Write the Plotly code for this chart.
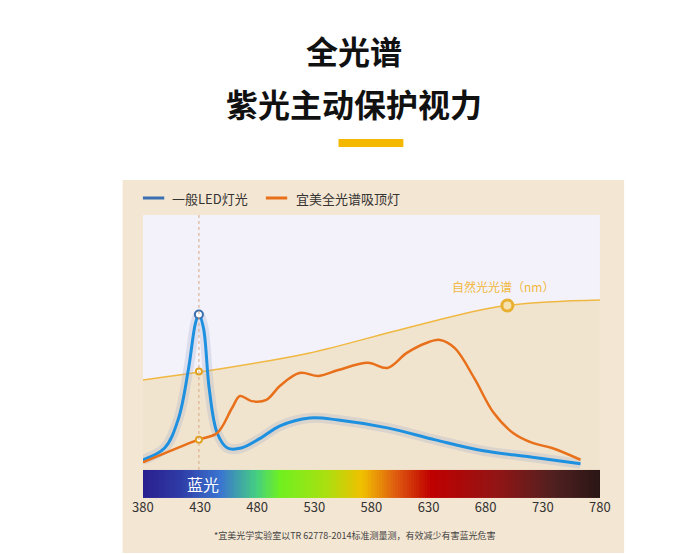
import plotly.graph_objects as go

# data (wavelength nm, relative intensity)
blue_wl = [380, 399, 411, 420, 426, 429, 433, 438, 445, 454, 466, 483, 500, 526, 551, 594, 636, 678, 721, 763]
blue_v = [4, 8.6, 20, 40, 57.6, 61, 55.7, 32, 14.5, 8.6, 8.6, 12.5, 17.3, 20.4, 19.6, 16.5, 11.8, 7.5, 5, 2.4]
orange_wl = [380, 428, 445, 458, 465, 475, 488, 500, 517, 534, 551, 577, 594, 611, 628, 640, 653, 670, 687, 704, 721, 738, 763]
orange_v = [3, 11.8, 14.5, 24.3, 29, 27, 27.5, 33, 38, 36.9, 39.2, 42, 40, 45.9, 49.8, 51, 47.8, 36, 22.4, 14.5, 10.6, 8.6, 4]
nat_wl = [380, 441, 526, 611, 695, 780]
nat_v = [35.3, 39.2, 45.9, 55.7, 64.3, 66.7]
tick_vals = [380, 430, 480, 530, 580, 630, 680, 730, 780]
tick_labels = [str(t) for t in tick_vals]
spec_x = list(range(380, 781, 2))

fig = go.Figure()
fig.add_trace(go.Heatmap(x=spec_x, y=[-11, 0], z=[spec_x], showscale=False, hoverinfo="skip",
    colorscale=[[0, "#2a1f8f"], [0.08, "#2e3aa5"], [0.17, "#3a75d0"], [0.25, "#45d080"], [0.3, "#70f020"],
                [0.4, "#a8e010"], [0.48, "#f0c000"], [0.55, "#e06010"], [0.63, "#c00000"], [0.78, "#901515"],
                [0.9, "#502020"], [1, "#2a1515"]]))
fig.add_trace(go.Scatter(x=nat_wl, y=nat_v, mode="lines", line=dict(color="#f0b840", width=1.5, shape="spline"),
                         fill="tozeroy", fillcolor="rgba(240,195,110,0.3)", hoverinfo="skip"))
fig.add_trace(go.Scatter(x=blue_wl, y=blue_v, mode="lines", line=dict(color="rgba(150,165,200,0.25)", width=10, shape="spline"), hoverinfo="skip"))
fig.add_trace(go.Scatter(x=blue_wl, y=blue_v, mode="lines", line=dict(color="#1e90e0", width=3, shape="spline")))
fig.add_trace(go.Scatter(x=orange_wl, y=orange_v, mode="lines", line=dict(color="#e8701a", width=2.5, shape="spline")))
fig.add_trace(go.Scatter(x=[429], y=[61], mode="markers", marker=dict(size=8, color="white", line=dict(color="#3a6fb0", width=2))))
fig.add_trace(go.Scatter(x=[429, 429], y=[38.6, 11.8], mode="markers", marker=dict(size=6, color="white", line=dict(color="#e0a020", width=2))))
fig.add_trace(go.Scatter(x=[699], y=[64.5], mode="markers", marker=dict(size=11, color="#f5e0b0", line=dict(color="#e8b030", width=3))))

shapes = [
    dict(type="rect", xref="paper", yref="paper", x0=107/692, x1=625/692, y0=1-545/554, y1=1-172/554,
         fillcolor="#f3e6d2", line=dict(width=0), layer="below"),
    dict(type="rect", xref="x", yref="y", x0=380, x1=780, y0=0, y1=100,
         fillcolor="#f3f2fa", line=dict(width=0), layer="below"),
    dict(type="rect", xref="paper", yref="paper", x0=330/692, x1=397/692, y0=1-139/554, y1=1-131/554,
         fillcolor="#f5b800", line=dict(width=0)),
    dict(type="line", x0=429, x1=429, y0=0, y1=100, line=dict(color="#d8a880", width=1, dash="dot")),
    dict(type="line", xref="paper", yref="paper", x0=128/692, x1=150/692, y0=1-190/554, y1=1-190/554, line=dict(color="#3a6fb0", width=3)),
    dict(type="line", xref="paper", yref="paper", x0=255/692, x1=277/692, y0=1-190/554, y1=1-190/554, line=dict(color="#e8701a", width=3)),
]
ann = [
    dict(text="<b>全光谱</b>", x=0.5, y=1-42/554, font=dict(size=32, color="#111")),
    dict(text="<b>紫光主动保护视力</b>", x=0.5, y=1-95/554, font=dict(size=32, color="#111")),
    dict(text="一般LED灯光", x=156/692, y=1-190/554, xanchor="left", font=dict(size=13, color="#333")),
    dict(text="宜美全光谱吸顶灯", x=284/692, y=1-190/554, xanchor="left", font=dict(size=13, color="#333")),
    dict(text="*宜美光学实验室以TR 62778-2014标准测量测，有效减少有害蓝光危害", x=0.5, y=1-527/554, font=dict(size=9, color="#444")),
]
for a in ann:
    a.update(xref="paper", yref="paper", showarrow=False, yanchor="middle")
ann += [
    dict(text="自然光光谱（nm）", x=695, y=72, xref="x", yref="y", showarrow=False, font=dict(size=12, color="#f0b840")),
    dict(text="蓝光", x=433, y=-5.5, xref="x", yref="y", showarrow=False, font=dict(size=16, color="white")),
]

fig.update_layout(width=692, height=554, margin=dict(l=0, r=0, t=0, b=0), paper_bgcolor="white",
    plot_bgcolor="rgba(0,0,0,0)", showlegend=False, shapes=shapes, annotations=ann,
    font=dict(family="Noto Sans CJK SC"),
    xaxis=dict(domain=[128/692, 600/692], range=[380, 780], tickvals=tick_vals, ticktext=tick_labels,
               showgrid=False, zeroline=False, ticks="", tickfont=dict(size=13, color="#333")),
    yaxis=dict(domain=[1-490/554, 1-207/554], range=[-11, 100], visible=False))
fig.write_html("out.html")
